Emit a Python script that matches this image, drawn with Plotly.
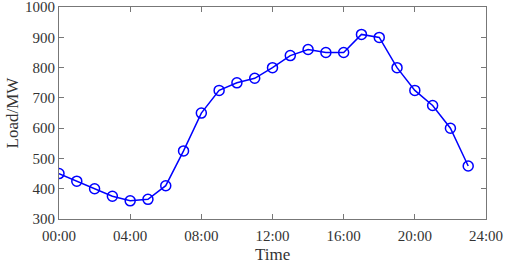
import plotly.graph_objects as go

hours = list(range(24))
load_mw = [450, 425, 400, 375, 360, 365, 410, 525, 650, 725, 750, 765,
           800, 840, 860, 850, 850, 910, 900, 800, 725, 675, 600, 475]
tick_vals = [0, 4, 8, 12, 16, 20, 24]
tick_text = ['00:00', '04:00', '08:00', '12:00', '16:00', '20:00', '24:00']
load_ticks = [300, 400, 500, 600, 700, 800, 900, 1000]

font = dict(family='Liberation Serif, Times New Roman, serif', size=15, color='#333')
title_font = dict(font, size=17)

fig = go.Figure()
fig.add_trace(go.Scatter(
    x=hours, y=load_mw, mode='lines+markers',
    line=dict(color='#0000ff', width=1.5),
    marker=dict(symbol='circle-open', size=10, color='#0000ff', line=dict(width=1.5)),
))

axis_style = dict(
    showline=True, linecolor='#777', linewidth=1, mirror='ticks',
    ticks='inside', ticklen=5, tickcolor='#777', showgrid=False, zeroline=False,
    tickfont=font, automargin=False, ticklabeloverflow='allow',
)
fig.update_xaxes(range=[0, 24], tickvals=tick_vals, ticktext=tick_text,
                 ticklabelstandoff=3, **axis_style)
fig.update_yaxes(range=[300, 1000.5], tickvals=load_ticks,
                 title=dict(text='Load/MW', font=title_font, standoff=2), **axis_style)
# x title as an annotation: the axis title gets squeezed against the tick labels
fig.add_annotation(text='Time', font=title_font, showarrow=False,
                   xref='paper', yref='paper', x=0.5, y=0,
                   yanchor='middle', yshift=-35)
fig.update_layout(
    width=505, height=263, showlegend=False,
    plot_bgcolor='white', paper_bgcolor='white',
    margin=dict(l=59, r=19, t=7, b=44),
    font=font,
)
# page body has a default 8px margin; drop it so the figure sits at 0,0
fig.write_html('out.html', config={'displayModeBar': False},
               post_script="document.body.style.margin='0';")
